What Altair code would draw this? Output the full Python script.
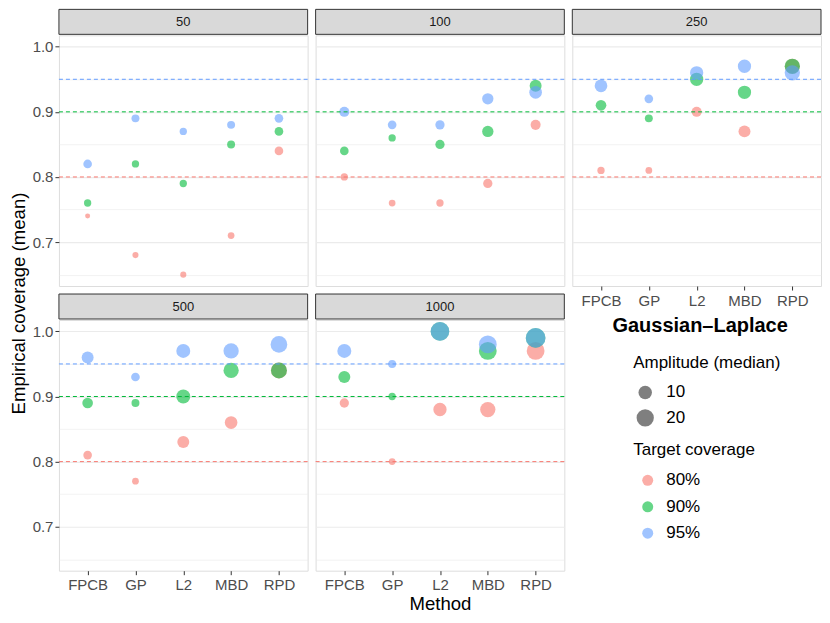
import altair as alt
import pandas as pd

methods = ["FPCB", "GP", "L2", "MBD", "RPD"]
sample_sizes = ["50", "100", "250", "500", "1000"]
targets = ["80%", "90%", "95%"]
target_levels = [0.80, 0.90, 0.95]
target_colors = ["#F8766D", "#00BA38", "#619CFF"]

# empirical coverage, rows = sample sizes (50,100,250,500,1000), cols = methods
cov_80 = [
    [0.74, 0.68, 0.65, 0.71, 0.84],
    [0.80, 0.76, 0.76, 0.79, 0.88],
    [0.81, 0.81, 0.90, 0.87, 0.97],
    [0.81, 0.77, 0.83, 0.86, 0.94],
    [0.89, 0.80, 0.88, 0.88, 0.97],
]
cov_90 = [
    [0.76, 0.82, 0.79, 0.85, 0.87],
    [0.84, 0.86, 0.85, 0.87, 0.94],
    [0.91, 0.89, 0.95, 0.93, 0.97],
    [0.89, 0.89, 0.90, 0.94, 0.94],
    [0.93, 0.90, 1.00, 0.97, 0.99],
]
cov_95 = [
    [0.82, 0.89, 0.87, 0.88, 0.89],
    [0.90, 0.88, 0.88, 0.92, 0.93],
    [0.94, 0.92, 0.96, 0.97, 0.96],
    [0.96, 0.93, 0.97, 0.97, 0.98],
    [0.97, 0.95, 1.00, 0.98, 0.99],
]
# median amplitude (point size)
amp_80 = [
    [2.0, 2.4, 2.4, 2.7, 3.9],
    [3.0, 2.7, 3.0, 4.4, 5.1],
    [3.0, 2.7, 5.1, 7.5, 13.0],
    [3.9, 2.7, 7.5, 8.6, 16.0],
    [4.4, 2.7, 9.7, 14.0, 22.0],
]
amp_90 = [
    [3.0, 3.0, 3.0, 3.4, 3.9],
    [3.9, 3.0, 4.4, 6.6, 7.5],
    [5.8, 3.4, 9.7, 9.7, 14.0],
    [5.8, 3.4, 11.0, 14.0, 16.0],
    [7.5, 3.0, 25.0, 22.0, 30.0],
]
amp_95 = [
    [3.9, 3.4, 3.0, 3.4, 3.9],
    [5.1, 3.9, 4.4, 6.6, 8.6],
    [8.6, 3.9, 9.7, 9.7, 14.0],
    [7.5, 3.9, 11.0, 14.0, 18.0],
    [11.0, 3.4, 25.0, 22.0, 30.0],
]

rows = []
for i, n in enumerate(sample_sizes):
    for t, cov, amp in zip(targets, [cov_80, cov_90, cov_95], [amp_80, amp_90, amp_95]):
        for j, m in enumerate(methods):
            rows.append({"n": n, "method": m, "target": t,
                         "coverage": cov[i][j], "amplitude": amp[i][j]})
df = pd.DataFrame(rows)
ref_df = pd.DataFrame({"target": targets, "coverage": target_levels})

W = 249
H = 251
FONT = "Liberation Sans"

x_scale = alt.Scale(type="point", domain=methods, padding=0.6)
y_scale = alt.Scale(domain=[0.6325, 1.0175], nice=False, zero=False)
color_scale = alt.Scale(domain=targets, range=target_colors)
size_scale = alt.Scale(type="sqrt", domain=[2, 25], range=[25, 346], zero=False)

ticks = [0.65, 0.70, 0.75, 0.80, 0.85, 0.90, 0.95, 1.00]
minor_test = "abs(datum.value*10 - round(datum.value*10)) > 0.01"

size_legend = alt.Legend(
    title="Amplitude (median)", values=[10, 20], orient="none",
    legendX=575, legendY=320, titleFontSize=17, titleFontWeight="normal",
    titleColor="#000000", titleFont=FONT, labelFont=FONT, labelFontSize=17,
    labelColor="#000000", symbolFillColor="#000000", symbolOpacity=0.5,
    symbolStrokeWidth=0, symbolType="circle", symbolOffset=3, labelOffset=12,
    rowPadding=8, titlePadding=12)
color_legend = alt.Legend(
    title="Target coverage", orient="none", legendX=575, legendY=407,
    titleFontSize=17, titleFontWeight="normal", titleColor="#000000",
    titleFont=FONT, labelFont=FONT, labelFontSize=17, labelColor="#000000",
    symbolSize=121, symbolOpacity=0.6, symbolStrokeWidth=0, symbolType="circle",
    symbolOffset=6, labelOffset=10, rowPadding=8.5, titlePadding=13)


def y_axis(show, title=None):
    kw = dict(values=ticks, domain=False, gridColor="#EBEBEB",
              gridWidth={"condition": {"test": minor_test, "value": 0.6}, "value": 1.2})
    if show:
        kw.update(labels=True, ticks=True, tickColor="#333333", tickSize=4, tickWidth=1,
                  tickOpacity={"condition": {"test": minor_test, "value": 0}, "value": 1},
                  labelExpr=f"({minor_test}) ? '' : format(datum.value, '.1f')",
                  labelColor="#4D4D4D", labelFontSize=15, labelFont=FONT, labelPadding=2)
    else:
        kw.update(labels=False, ticks=False)
    if title:
        kw.update(title=title, titleY=-17, titleFontSize=18.6, titleFontWeight="normal",
                  titleColor="#000000", titleFont=FONT, titlePadding=4)
    else:
        kw["title"] = None
    return alt.Axis(**kw)


def x_axis(show, title=None):
    kw = dict(domain=False, gridColor="#EBEBEB", gridWidth=1.2, labelAngle=0)
    if show:
        kw.update(labels=True, ticks=True, tickColor="#333333", tickSize=4, tickWidth=1,
                  labelColor="#4D4D4D", labelFontSize=15, labelFont=FONT, labelPadding=3)
    else:
        kw.update(labels=False, ticks=False)
    if title:
        kw.update(title=title, titleX=124.5, titleFontSize=18.6, titleFontWeight="normal",
                  titleColor="#000000", titleFont=FONT, titlePadding=2)
    else:
        kw["title"] = None
    return alt.Axis(**kw)


def panel(n, x_show, y_show, y_title=None, x_title=None, side_title=False):
    d = df[df.n == n]
    yax = y_axis(y_show, y_title)
    xax = x_axis(x_show, x_title)
    pts = alt.Chart(d).mark_circle(opacity=0.6).encode(
        x=alt.X("method:N", scale=x_scale, sort=methods, axis=xax),
        y=alt.Y("coverage:Q", scale=y_scale, axis=yax),
        color=alt.Color("target:N", scale=color_scale, legend=color_legend),
        size=alt.Size("amplitude:Q", scale=size_scale, legend=size_legend),
    )
    refs = []
    for t, c in zip(targets, target_colors):
        refs.append(
            alt.Chart(ref_df).transform_filter(alt.datum.target == t)
            .mark_rule(strokeDash=[4, 3], strokeWidth=1, color=c)
            .encode(y=alt.Y("coverage:Q", scale=y_scale, axis=yax))
        )
    strip_df = pd.DataFrame({"label": [n]})
    strip = alt.Chart(strip_df).mark_rect(fill="#D9D9D9", stroke="#333333", strokeWidth=1).encode(
        x=alt.value(0), x2=alt.value(W), y=alt.value(-26), y2=alt.value(-1))
    strip_text = alt.Chart(strip_df).mark_text(
        fontSize=13, font=FONT, color="#1A1A1A", align="center", baseline="middle").encode(
        x=alt.value(W / 2), y=alt.value(-13.5), text="label:N")
    layers = [pts] + refs + [strip, strip_text]
    if side_title:
        t = alt.Chart(pd.DataFrame({"t": ["Gaussian\u2013Laplace"]})).mark_text(
            fontSize=20, fontWeight="bold", font=FONT, color="#000000",
            align="center", baseline="alphabetic").encode(
            x=alt.value(385), y=alt.value(12.5), text="t:N")
        layers.append(t)
    return alt.layer(*layers).properties(width=W, height=H)


p50 = panel("50", False, True)
p100 = panel("100", False, False)
p250 = panel("250", True, False)
p500 = panel("500", True, True, y_title="Empirical coverage (mean)")
p1000 = panel("1000", True, False, x_title="Method", side_title=True)

chart = alt.concat(
    p50, p100, p250, p500, p1000, columns=3,
    spacing={"row": 34, "column": 8}, bounds="flush",
).properties(
    padding={"left": 0, "top": 0, "right": 0, "bottom": 0},
    background="#FFFFFF",
).configure_view(
    stroke="#333333", strokeWidth=1
).configure(font=FONT)

chart.save("out.html", embed_options={"renderer": "svg", "actions": False})
